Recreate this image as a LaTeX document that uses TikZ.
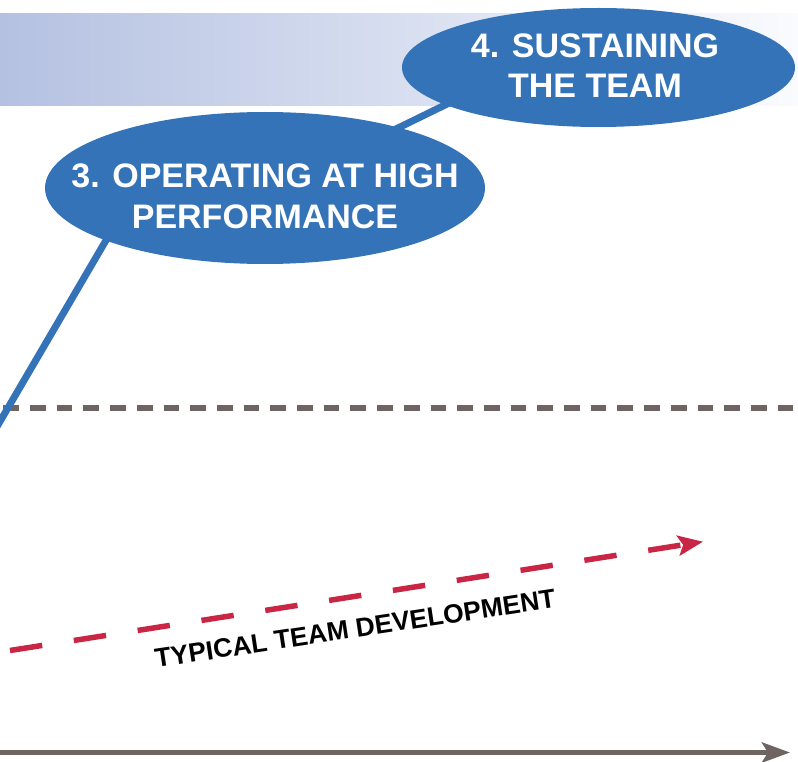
\documentclass[tikz,border=0pt]{standalone}
\usepackage{fontspec}
\setmainfont{Liberation Sans}
\usetikzlibrary{arrows.meta,shapes.geometric}
\definecolor{blueE}{RGB}{52,115,183}
\definecolor{grayL}{RGB}{110,101,99}
\definecolor{redL}{RGB}{200,38,68}
\definecolor{bandL}{RGB}{180,193,225}
\definecolor{bandM}{RGB}{205,212,234}
\definecolor{bandR}{RGB}{250,251,254}
\begin{document}
\begin{tikzpicture}[x=1pt,y=-1pt,
  stage/.style={ellipse, fill=blueE, draw=none, inner sep=0pt},
  stagetext/.style={text=white, font=\fontsize{34}{40.5}\selectfont\bfseries, align=center, inner sep=0pt},
  link/.style={draw=blueE, line width=7pt, line join=round},
  threshold/.style={draw=grayL, line width=6.5pt, dash pattern=on 15.7pt off 11pt},
  typical/.style={draw=redL, line width=5.5pt, dash pattern=on 32.6pt off 32pt, -{Stealth[length=25pt,width=20pt,inset=5pt]}},
  axisline/.style={draw=grayL, line width=5.5pt, -{Stealth[length=28pt,width=20pt,inset=6pt]}},
  trendlabel/.style={font=\fontsize{26.5}{30}\selectfont\bfseries, inner sep=0pt}]
\useasboundingbox (0,0) rectangle (798,762);
% top band
\fill[left color=bandL, middle color=bandM, right color=bandR] (0,14) rectangle (798,106);
% coordinates
\coordinate (g0) at (3.3,408);
\coordinate (g1) at (798,408);
\coordinate (p0) at (-5,430);
\coordinate (p1) at (129.6,200);
\coordinate (p2) at (360,146.6);
\coordinate (p3) at (480,87.9);
\coordinate (r0) at (10,650.5);
\coordinate (r1) at (703,541.7);
\coordinate (a0) at (0,752.5);
\coordinate (a1) at (790,752.5);
% threshold line
\draw[threshold] (g0) -- (g1);
% performance line
\draw[link] (p0) -- (p1) -- (p2) -- (p3);
% stages
\node[stage, minimum width=440pt, minimum height=152pt] (e3) at (265,188) {};
\node[stage, minimum width=393pt, minimum height=119pt] (e4) at (598.5,67.5) {};
\node[stagetext] (t3) at (265,196.5) {3. OPERATING AT HIGH\\PERFORMANCE};
\node[stagetext] (t4) at (595,65.5) {4. SUSTAINING\\THE TEAM};
% typical development
\draw[typical] (r0) -- (r1);
\node[trendlabel, rotate=8.6, anchor=base] (tt) at (356.5,637.5) {TYPICAL TEAM DEVELOPMENT};
% time axis
\draw[axisline] (a0) -- (a1);
\end{tikzpicture}
\end{document}
